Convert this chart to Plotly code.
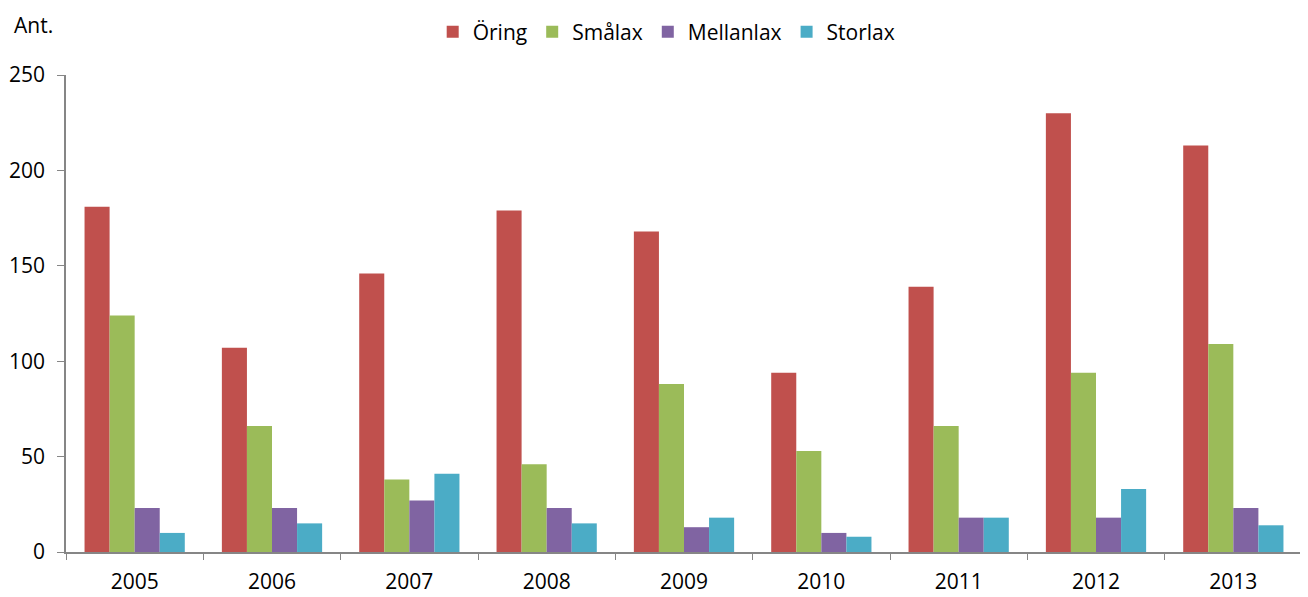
import plotly.graph_objects as go

years = ["2005", "2006", "2007", "2008", "2009", "2010", "2011", "2012", "2013"]
oring = [181, 107, 146, 179, 168, 94, 139, 230, 213]
smalax = [124, 66, 38, 46, 88, 53, 66, 94, 109]
mellanlax = [23, 23, 27, 23, 13, 10, 18, 18, 23]
storlax = [10, 15, 41, 15, 18, 8, 18, 33, 14]

series = [
    ("Öring", oring, "#C0504D"),
    ("Smålax", smalax, "#9BBB59"),
    ("Mellanlax", mellanlax, "#8064A2"),
    ("Storlax", storlax, "#4BACC6"),
]

fig = go.Figure()
for name, vals, color in series:
    fig.add_trace(go.Bar(x=years, y=vals, name=name, marker_color=color,
                         marker_line_width=0))

font_family = "Open Sans, Liberation Sans, sans-serif"
# page body has an 8px margin; compensate so plot area sits at x 66-1302, y 75-552
fig.update_layout(
    width=1300, height=589,
    margin=dict(l=58, r=6, t=67, b=45, autoexpand=False),
    plot_bgcolor="white", paper_bgcolor="white",
    barmode="group", bargap=0.27, bargroupgap=0,
    font=dict(family=font_family, size=21, color="#000000"),
    legend=dict(orientation="h", x=0.486, xanchor="center", y=1.09, yanchor="middle",
                font=dict(size=21), itemwidth=30, traceorder="normal"),
    xaxis=dict(showline=True, linecolor="#868686", linewidth=1.5,
               ticks="outside", ticklen=6, tickcolor="#868686",
               tickson="boundaries", showgrid=False, automargin=False,
               ticklabelstandoff=10, tickfont=dict(size=21)),
    yaxis=dict(range=[0, 250], dtick=50, showline=True, linecolor="#868686",
               linewidth=1.5, ticks="outside", ticklen=7, tickcolor="#868686",
               showgrid=False, zeroline=False, automargin=False,
               ticklabelstandoff=8, tickfont=dict(size=21)),
    annotations=[dict(text="Ant.", xref="paper", yref="paper", x=-0.0437, y=1.105,
                      xanchor="left", yanchor="middle", showarrow=False,
                      font=dict(size=21))],
)
fig.write_html("out.html")
